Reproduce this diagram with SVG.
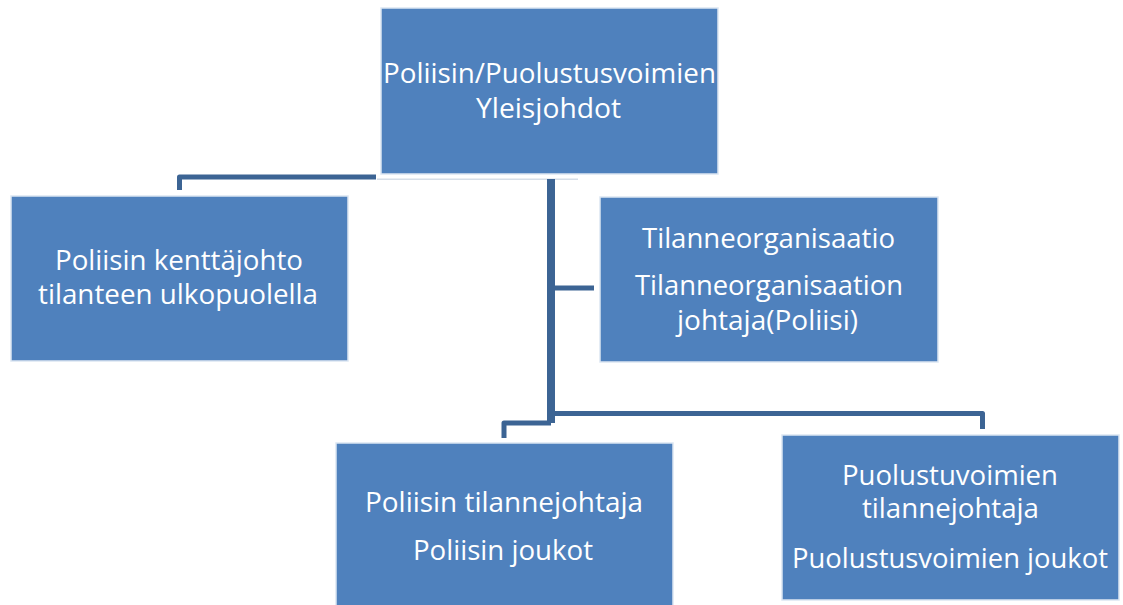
<svg xmlns="http://www.w3.org/2000/svg" width="1123" height="605" viewBox="0 0 1123 605">
<style>
.box{fill:#4F81BD;stroke:#DCE6F2;stroke-width:1.5}
.t{font-family:"Open Sans","Noto Sans","Liberation Sans",sans-serif;font-size:27px;fill:#FFFFFF;text-anchor:middle}
.c{fill:none;stroke:#3C6494;stroke-linejoin:round}
</style>
<rect width="1123" height="605" fill="#FFFFFF"/>
<g id="connectors">
<line x1="377" y1="179.3" x2="578" y2="179.3" stroke="#D6DEE8" stroke-width="1.5"/>
<path class="c" d="M179.5,190 V177 H376" stroke-width="5"/>
<path class="c" d="M551,179 V423" stroke-width="8"/>
<path class="c" d="M555,288 H594" stroke-width="5"/>
<path class="c" d="M551,413.5 H982.5 V429" stroke-width="5"/>
<path class="c" d="M551,423 H504 V438" stroke-width="5"/>
</g>
<g id="node-top">
<rect class="box" x="381" y="8" width="337" height="166"/>
<text class="t" x="549.5" y="83" textLength="333" lengthAdjust="spacingAndGlyphs">Poliisin/Puolustusvoimien</text>
<text class="t" x="548.5" y="118" textLength="145" lengthAdjust="spacingAndGlyphs">Yleisjohdot</text>
</g>
<g id="node-left">
<rect class="box" x="11" y="196" width="337" height="165"/>
<text class="t" x="179" y="270" textLength="248" lengthAdjust="spacingAndGlyphs">Poliisin kenttäjohto</text>
<text class="t" x="178" y="304" textLength="280" lengthAdjust="spacingAndGlyphs">tilanteen ulkopuolella</text>
</g>
<g id="node-mid">
<rect class="box" x="600" y="197" width="338" height="165"/>
<text class="t" x="768.5" y="248" textLength="253" lengthAdjust="spacingAndGlyphs">Tilanneorganisaatio</text>
<text class="t" x="769" y="295" textLength="268" lengthAdjust="spacingAndGlyphs">Tilanneorganisaation</text>
<text class="t" x="767.5" y="330" textLength="181" lengthAdjust="spacingAndGlyphs">johtaja(Poliisi)</text>
</g>
<g id="node-bottom-left">
<rect class="box" x="336" y="443" width="337" height="170"/>
<text class="t" x="504" y="512" textLength="278" lengthAdjust="spacingAndGlyphs">Poliisin tilannejohtaja</text>
<text class="t" x="503" y="560" textLength="180" lengthAdjust="spacingAndGlyphs">Poliisin joukot</text>
</g>
<g id="node-bottom-right">
<rect class="box" x="782" y="435" width="337" height="165"/>
<text class="t" x="950" y="485" textLength="216" lengthAdjust="spacingAndGlyphs">Puolustuvoimien</text>
<text class="t" x="950.5" y="518" textLength="177" lengthAdjust="spacingAndGlyphs">tilannejohtaja</text>
<text class="t" x="950" y="568" textLength="316" lengthAdjust="spacingAndGlyphs">Puolustusvoimien joukot</text>
</g>
</svg>
